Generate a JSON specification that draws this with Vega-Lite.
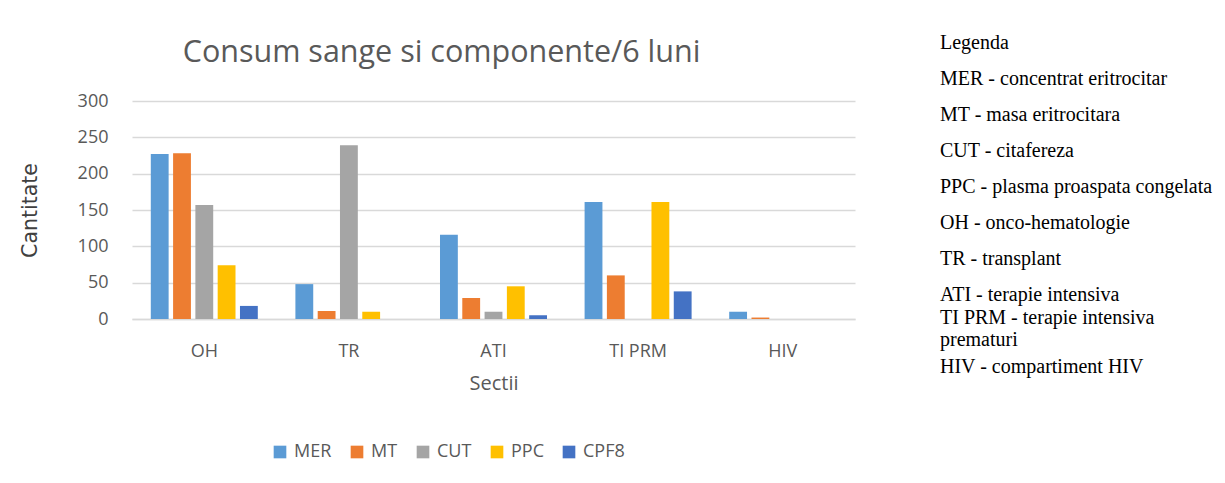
{
  "$schema": "https://vega.github.io/schema/vega-lite/v6.json",
  "padding": {"left": 20, "top": 33, "right": 0, "bottom": 0},
  "background": "white",
  "datasets": {
    "consum": [
      {"sectie": "OH", "componenta": "MER", "cantitate": 227},
      {"sectie": "OH", "componenta": "MT", "cantitate": 228},
      {"sectie": "OH", "componenta": "CUT", "cantitate": 157},
      {"sectie": "OH", "componenta": "PPC", "cantitate": 74},
      {"sectie": "OH", "componenta": "CPF8", "cantitate": 18},
      {"sectie": "TR", "componenta": "MER", "cantitate": 48},
      {"sectie": "TR", "componenta": "MT", "cantitate": 11},
      {"sectie": "TR", "componenta": "CUT", "cantitate": 239},
      {"sectie": "TR", "componenta": "PPC", "cantitate": 10},
      {"sectie": "TR", "componenta": "CPF8", "cantitate": 0},
      {"sectie": "ATI", "componenta": "MER", "cantitate": 116},
      {"sectie": "ATI", "componenta": "MT", "cantitate": 29},
      {"sectie": "ATI", "componenta": "CUT", "cantitate": 10},
      {"sectie": "ATI", "componenta": "PPC", "cantitate": 45},
      {"sectie": "ATI", "componenta": "CPF8", "cantitate": 5},
      {"sectie": "TI PRM", "componenta": "MER", "cantitate": 161},
      {"sectie": "TI PRM", "componenta": "MT", "cantitate": 60},
      {"sectie": "TI PRM", "componenta": "CUT", "cantitate": 0},
      {"sectie": "TI PRM", "componenta": "PPC", "cantitate": 161},
      {"sectie": "TI PRM", "componenta": "CPF8", "cantitate": 38},
      {"sectie": "HIV", "componenta": "MER", "cantitate": 10},
      {"sectie": "HIV", "componenta": "MT", "cantitate": 2},
      {"sectie": "HIV", "componenta": "CUT", "cantitate": 0},
      {"sectie": "HIV", "componenta": "PPC", "cantitate": 0},
      {"sectie": "HIV", "componenta": "CPF8", "cantitate": 0}
    ],
    "legenda": [
      {"rand": 1, "text": "Legenda"},
      {"rand": 2, "text": "MER - concentrat eritrocitar"},
      {"rand": 3, "text": "MT - masa eritrocitara"},
      {"rand": 4, "text": "CUT - citafereza"},
      {"rand": 5, "text": "PPC - plasma proaspata congelata"},
      {"rand": 6, "text": "OH - onco-hematologie"},
      {"rand": 7, "text": "TR - transplant"},
      {"rand": 8, "text": "ATI - terapie intensiva\nTI PRM - terapie intensiva\nprematuri"},
      {"rand": 10, "text": "HIV - compartiment HIV"}
    ]
  },
  "concat": [
    {
      "width": 723,
      "height": 218,
      "data": {"name": "consum"},
      "title": {
        "text": "Consum sange si componente/6 luni",
        "font": "Open Sans",
        "fontSize": 30.5,
        "fontWeight": "normal",
        "color": "#595959",
        "anchor": "middle",
        "frame": "bounds",
        "offset": 24,
        "dx": 4
      },
      "mark": {"type": "bar"},
      "encoding": {
        "x": {
          "field": "sectie",
          "type": "nominal",
          "sort": ["OH", "TR", "ATI", "TI PRM", "HIV"],
          "scale": {"paddingInner": 0.26, "paddingOuter": 0.13},
          "axis": {
            "title": "Sectii",
            "labelAngle": 0,
            "labelFont": "Open Sans",
            "labelFontSize": 18,
            "labelColor": "#595959",
            "labelPadding": 23,
            "ticks": false,
            "domainColor": "#d9d9d9",
            "domainWidth": 1.5,
            "titleFont": "Open Sans",
            "titleFontSize": 20,
            "titleFontWeight": "normal",
            "titleColor": "#595959",
            "titlePadding": 13
          }
        },
        "xOffset": {
          "field": "componenta",
          "type": "nominal",
          "sort": ["MER", "MT", "CUT", "PPC", "CPF8"],
          "scale": {"paddingInner": 0.2, "paddingOuter": 0}
        },
        "y": {
          "field": "cantitate",
          "type": "quantitative",
          "scale": {"domain": [0, 300], "nice": false},
          "axis": {
            "title": "Cantitate",
            "values": [0, 50, 100, 150, 200, 250, 300],
            "domain": false,
            "ticks": false,
            "gridColor": "#d9d9d9",
            "gridWidth": 1.5,
            "labelFont": "Open Sans",
            "labelFontSize": 18,
            "labelColor": "#595959",
            "labelPadding": 24,
            "titleFont": "DejaVu Sans",
            "titleFontSize": 20.5,
            "titleFontWeight": "normal",
            "titleColor": "#404040",
            "titlePadding": 37
          }
        },
        "color": {
          "field": "componenta",
          "type": "nominal",
          "sort": ["MER", "MT", "CUT", "PPC", "CPF8"],
          "scale": {
            "domain": ["MER", "MT", "CUT", "PPC", "CPF8"],
            "range": ["#5B9BD5", "#ED7D31", "#A5A5A5", "#FFC000", "#4472C4"]
          },
          "legend": {
            "title": null,
            "orient": "none",
            "direction": "horizontal",
            "legendX": 139,
            "legendY": 342,
            "symbolType": "square",
            "symbolSize": 160,
            "symbolStrokeWidth": 0,
            "labelFont": "Open Sans",
            "labelFontSize": 18,
            "labelColor": "#595959",
            "labelOffset": 5,
            "columnPadding": 16,
            "padding": 0
          }
        }
      }
    },
    {
      "width": 280,
      "height": 288,
      "data": {"name": "legenda"},
      "mark": {
        "type": "text",
        "align": "left",
        "baseline": "middle",
        "font": "Liberation Serif",
        "fontSize": 20,
        "color": "#000000",
        "lineBreak": "\n",
        "lineHeight": 22.5
      },
      "encoding": {
        "y": {
          "field": "rand",
          "type": "quantitative",
          "axis": null,
          "scale": {"domain": [2.6, 10.6], "reverse": true, "nice": false, "zero": false}
        },
        "x": {"value": 0},
        "text": {"field": "text"}
      }
    }
  ],
  "columns": 2,
  "align": "none",
  "spacing": 85,
  "resolve": {"scale": {"color": "independent"}, "legend": {"color": "independent"}},
  "config": {
    "view": {"stroke": null}
  }
}
